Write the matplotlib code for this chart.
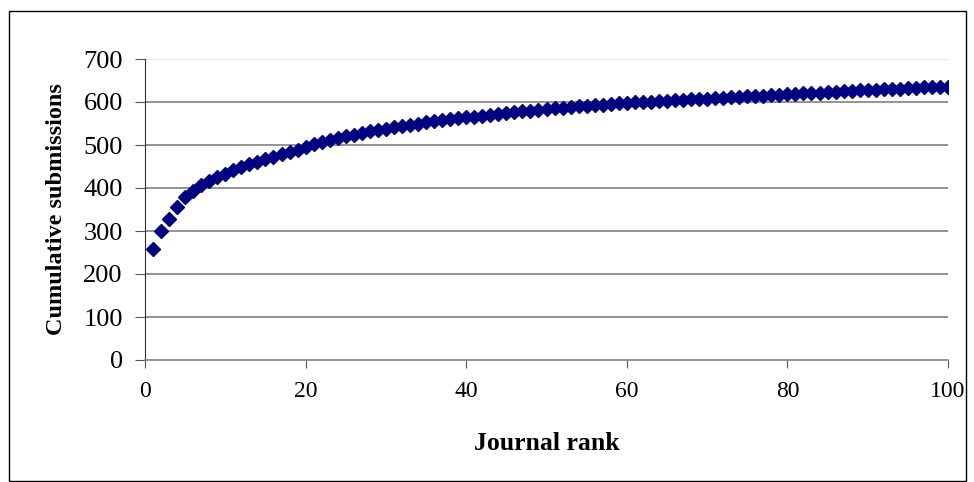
import numpy as np
import matplotlib
matplotlib.use("Agg")
import matplotlib.pyplot as plt
from matplotlib.patches import Rectangle

# journal rank 1..100 and cumulative submissions
ranks = list(range(1, 101))
cumulative = [
    258, 300, 328, 356, 380, 394, 406, 416, 425, 433,
    441, 448, 455, 461, 467, 473, 478, 484, 489, 496,
    502, 507, 512, 516, 520, 524, 528, 532, 535, 538,
    541, 544, 547, 550, 553, 555, 558, 560, 562, 564,
    566, 568, 570, 572, 574, 576, 578, 580, 582, 584,
    586, 587, 589, 590, 591, 593, 594, 595, 597, 598,
    599, 600, 601, 602, 603, 604, 605, 606, 607, 608,
    609, 610, 611, 612, 613, 614, 615, 616, 617, 618,
    619, 620, 621, 622, 623, 624, 625, 626, 627, 628,
    629, 630, 630, 631, 632, 633, 634, 635, 635, 636,
]
x_ticks = [0, 20, 40, 60, 80, 100]
y_ticks = [0, 100, 200, 300, 400, 500, 600, 700]

plt.rcParams['font.family'] = ['Liberation Serif', 'DejaVu Serif']

fig = plt.figure(figsize=(9.74, 4.82), dpi=100)
ax = fig.add_axes([145 / 974, 1 - 360 / 482, 803 / 974, 301 / 482])

# outer chart border
fig.patches.append(Rectangle((9 / 974, 1 / 482), 957 / 974, 470 / 482,
                             transform=fig.transFigure, fill=False,
                             edgecolor='black', linewidth=1))

for y in y_ticks[1:-1]:
    ax.axhline(y, color='#808080', linewidth=1.2, zorder=1)
ax.axhline(700, color='#e6e6e6', linewidth=1.0, zorder=1)

ax.plot(ranks, cumulative, linestyle='none', marker='D', markersize=7,
        color='#000080', markeredgecolor='#000080', zorder=3)

ax.set_xlim(0, 100)
ax.set_ylim(0, 700)
ax.set_xticks(x_ticks)
ax.set_yticks(y_ticks)

for side in ['top', 'right']:
    ax.spines[side].set_visible(False)
ax.spines['left'].set_color('#333333')
ax.spines['bottom'].set_color('#808080')
ax.spines['bottom'].set_linewidth(1.2)

ax.tick_params(axis='y', direction='out', length=7, pad=9, labelsize=19,
               color='#555555')
ax.tick_params(axis='x', direction='out', length=6, pad=9, labelsize=17,
               color='#555555')

ax.set_ylabel('Cumulative submissions', fontsize=17.5, fontweight='bold',
              labelpad=12)
ax.set_xlabel('Journal rank', fontsize=18.5, fontweight='bold', labelpad=22)

fig.savefig('out.png', dpi=100)
